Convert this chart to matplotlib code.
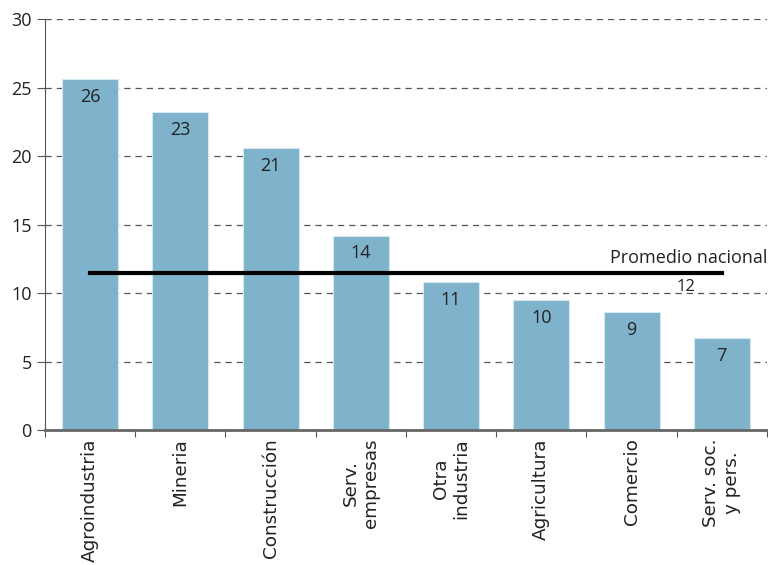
import numpy as np
import matplotlib.pyplot as plt

# Datos
sectores = ['Agroindustria', 'Mineria', 'Construcción', 'Serv.\nempresas',
            'Otra\nindustria', 'Agricultura', 'Comercio', 'Serv. soc.\ny pers.']
valores = [25.6, 23.2, 20.6, 14.2, 10.8, 9.5, 8.6, 6.7]
etiquetas = ['26', '23', '21', '14', '11', '10', '9', '7']
promedio = 11.45
promedio_txt = '12'

color_barra = '#7fb2cb'

fig = plt.figure(figsize=(7.68, 5.65), dpi=100)
ax = fig.add_axes([0.0586, 0.239, 0.940, 0.727])

x = np.arange(len(sectores))
ax.bar(x, valores, width=0.62, color=color_barra, edgecolor='#d6e8f0', linewidth=0.8, zorder=2)

# Etiquetas de valor dentro de las barras
for xi, v, t in zip(x, valores, etiquetas):
    ax.text(xi, v - 1.3, t, ha='center', va='center', fontsize=13,
            family='Open Sans', color='#222222', zorder=4)

# Línea del promedio nacional
ax.plot([x[0], x[-1]], [promedio, promedio], color='black', lw=3, zorder=3)
ax.text(7.5, promedio + 1.1, 'Promedio nacional', ha='right', va='center',
        fontsize=13, family='Open Sans', color='#222222')
ax.text(6.6, promedio - 1.0, promedio_txt, ha='center', va='center',
        fontsize=12, family='Open Sans', color='#222222')

# Ejes
ax.set_xlim(-0.5, 7.5)
ax.set_ylim(0, 30)
ax.set_yticks(np.arange(0, 31, 5))
ax.yaxis.grid(True, linestyle=(0, (5, 4)), color='#555555', lw=0.9, zorder=0)
ax.set_axisbelow(True)

ax.set_xticks(np.arange(-0.5, 8, 1))
ax.set_xticklabels([])
ax.set_xticks(x, minor=True)
ax.set_xticklabels(sectores, minor=True, rotation=90, fontsize=13.2,
                   family='DejaVu Sans', va='top', ha='center', color='#222222')
ax.tick_params(axis='x', which='minor', length=0, pad=6)
ax.tick_params(axis='x', which='major', length=5, color='#555555')
ax.tick_params(axis='y', length=6, color='#555555', labelsize=13, labelcolor='#222222')
for lbl in ax.get_yticklabels():
    lbl.set_family('Open Sans')

ax.spines['top'].set_visible(False)
ax.spines['right'].set_visible(False)
ax.spines['left'].set_color('#555555')
ax.spines['bottom'].set_color('#666666')
ax.spines['bottom'].set_linewidth(2)

fig.savefig('out.png', dpi=100)
